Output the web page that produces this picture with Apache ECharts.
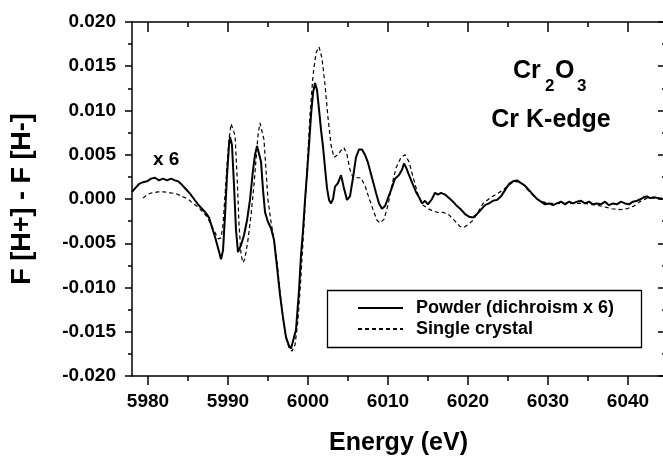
<!DOCTYPE html>
<html>
<head>
<meta charset="utf-8">
<script src="https://cdn.jsdelivr.net/npm/echarts@6/dist/echarts.min.js"></script>
<style>
html,body{margin:0;padding:0;background:#fff;}
#chart{width:663px;height:459px;}
</style>
</head>
<body>
<div id="chart"></div>
<script>
// ---- data ----
const energyMin = 5978.0;
const energyMax = 6044.63;
const energyMajorTicks = [5980, 5990, 6000, 6010, 6020, 6030, 6040];
const energyMinorTicks = [5985, 5995, 6005, 6015, 6025, 6035];
const signalTicks = [-0.020, -0.015, -0.010, -0.005, 0.000, 0.005, 0.010, 0.015, 0.020];

const powderEnergy = [
5978.0,5978.38,5978.88,5979.38,5979.88,5980.38,5980.88,5981.38,5981.88,5982.38,5982.88,5983.38,5983.75,5984.25,5984.75,5985.25,5985.75,5986.25,5986.75,5987.25,5987.63,
5988.0,5988.38,5988.75,5989.13,5989.38,5989.63,5989.88,5990.13,5990.25,5990.5,5990.75,5991.0,5991.25,5991.63,5992.0,5992.38,5992.75,5993.13,5993.38,5993.63,5993.88,
5994.13,5994.38,5994.63,5995.0,5995.38,5995.75,5996.13,5996.5,5996.88,5997.25,5997.63,5997.88,5998.13,5998.5,5998.88,5999.13,5999.38,5999.63,5999.88,6000.13,6000.38,
6000.63,6000.88,6001.13,6001.38,6001.63,6001.88,6002.13,6002.38,6002.63,6002.88,6003.13,6003.38,6003.75,6004.13,6004.5,6004.88,6005.25,6005.63,6006.0,6006.38,6006.75,
6007.13,6007.5,6008.0,6008.5,6008.88,6009.25,6009.63,6010.0,6010.38,6010.88,6011.38,6011.75,6012.0,6012.25,6012.63,6013.13,6013.5,6013.88,6014.25,6014.63,6015.0,
6015.5,6015.88,6016.25,6016.63,6017.13,6017.63,6018.13,6018.63,6019.13,6019.63,6020.13,6020.63,6021.13,6021.63,6022.13,6022.63,6023.13,6023.63,6024.13,6024.63,
6025.13,6025.63,6026.13,6026.63,6027.13,6027.63,6028.13,6028.63,6029.13,6029.63,6030.13,6030.63,6031.13,6031.63,6032.13,6032.63,6033.13,6033.63,6034.13,6034.63,
6035.13,6035.63,6036.13,6036.63,6037.13,6037.63,6038.13,6038.63,6039.13,6039.63,6040.13,6040.63,6041.13,6041.63,6042.0,6042.38,6042.75,6043.25,6043.75,6044.25,6044.63
];
const powderSignal = [
0.0008,0.0012,0.0017,0.0019,0.0020,0.0023,0.0024,0.0021,0.0023,0.0021,0.0023,0.0021,0.0020,0.0016,0.0011,0.0006,0.0000,-0.0006,-0.0011,-0.0016,-0.0021,
-0.0032,-0.0043,-0.0055,-0.0068,-0.0058,-0.0018,0.0027,0.0061,0.0070,0.0061,0.0016,-0.0035,-0.0060,-0.0052,-0.0041,-0.0024,-0.0001,0.0033,0.0050,0.0060,0.0058,
0.0042,0.0010,-0.0015,-0.0026,-0.0033,-0.0046,-0.0077,-0.0108,-0.0134,-0.0156,-0.0166,-0.0169,-0.0167,-0.0148,-0.0103,-0.0063,-0.0035,-0.0001,0.0029,0.0061,0.0095,
0.0120,0.0131,0.0123,0.0101,0.0078,0.0059,0.0035,0.0012,-0.0001,-0.0005,0.0000,0.0014,0.0018,0.0027,0.0012,-0.0001,0.0003,0.0024,0.0047,0.0056,0.0056,
0.0050,0.0041,0.0024,0.0007,-0.0005,-0.0011,-0.0008,0.0001,0.0010,0.0023,0.0027,0.0033,0.0040,0.0036,0.0027,0.0016,0.0008,0.0002,-0.0005,-0.0002,-0.0006,
0.0000,0.0007,0.0005,0.0007,0.0005,0.0001,-0.0003,-0.0008,-0.0012,-0.0017,-0.0020,-0.0021,-0.0017,-0.0012,-0.0007,-0.0005,-0.0002,-0.0001,0.0003,0.0010,
0.0017,0.0020,0.0021,0.0018,0.0015,0.0010,0.0005,0.0000,-0.0003,-0.0006,-0.0005,-0.0007,-0.0005,-0.0003,-0.0006,-0.0003,-0.0005,-0.0003,-0.0002,-0.0005,
-0.0003,-0.0006,-0.0005,-0.0006,-0.0003,-0.0007,-0.0005,-0.0006,-0.0003,-0.0005,-0.0006,-0.0003,-0.0002,0.0000,0.0002,0.0003,0.0001,0.0002,0.0001,0.0000,0.0001
];

const crystalEnergy = [
5979.38,5979.88,5980.5,5981.25,5982.0,5982.75,5983.5,5984.25,5985.0,5985.63,5986.25,5986.88,5987.38,5987.88,5988.38,5988.75,5989.13,5989.38,5989.63,5989.88,
5990.13,5990.38,5990.63,5990.88,5991.13,5991.38,5991.63,5991.88,5992.13,5992.5,5992.88,5993.25,5993.5,5993.75,5994.0,5994.25,5994.5,5994.75,5995.0,5995.38,
5995.75,5996.13,5996.5,5996.88,5997.25,5997.63,5998.0,5998.38,5998.75,5999.13,5999.5,5999.88,6000.25,6000.63,6001.0,6001.38,6001.75,6002.13,6002.5,6002.88,
6003.25,6003.75,6004.13,6004.5,6004.88,6005.25,6005.63,6006.13,6006.63,6007.13,6007.63,6008.13,6008.63,6009.0,6009.5,6010.0,6010.5,6011.0,6011.63,6012.13,
6012.63,6013.13,6013.75,6014.38,6015.25,6016.13,6016.88,6017.63,6018.38,6019.0,6019.5,6020.0,6020.63,6021.25,6021.88,6022.75,6023.63,6024.38,6025.0,6025.63,
6026.25,6026.88,6027.5,6028.25,6029.0,6030.0,6031.13,6032.75,6034.63,6036.13,6037.13,6038.0,6039.0,6039.88,6040.75,6041.5,6042.38,6043.38,6044.63
];
const crystalSignal = [
0.0001,0.0005,0.0007,0.0008,0.0008,0.0007,0.0006,0.0003,0.0000,-0.0005,-0.0009,-0.0015,-0.0020,-0.0029,-0.0038,-0.0045,-0.0044,-0.0029,0.0005,0.0038,
0.0067,0.0085,0.0087,0.0072,0.0027,-0.0029,-0.0063,-0.0072,-0.0067,-0.0046,-0.0018,0.0016,0.0044,0.0072,0.0086,0.0084,0.0067,0.0033,-0.0001,-0.0026,
-0.0046,-0.0071,-0.0105,-0.0134,-0.0157,-0.0168,-0.0172,-0.0165,-0.0137,-0.0086,-0.0029,0.0033,0.0095,0.0140,0.0165,0.0172,0.0159,0.0129,0.0092,0.0061,
0.0047,0.0050,0.0055,0.0058,0.0050,0.0033,0.0024,0.0024,0.0024,0.0015,0.0001,-0.0012,-0.0024,-0.0027,-0.0023,-0.0007,0.0016,0.0035,0.0047,0.0050,
0.0042,0.0025,0.0005,-0.0007,-0.0012,-0.0015,-0.0015,-0.0018,-0.0025,-0.0031,-0.0032,-0.0029,-0.0024,-0.0015,-0.0005,0.0001,0.0006,0.0010,0.0015,0.0019,
0.0020,0.0017,0.0010,0.0003,-0.0002,-0.0005,-0.0005,-0.0005,-0.0005,-0.0007,-0.0009,-0.0011,-0.0012,-0.0011,-0.0008,-0.0003,0.0001,0.0001,0.0001
];

const seriesNames = ['Powder (dichroism x 6)', 'Single crystal'];

// ---- chart ----
const FONT = "'Liberation Sans', Arial, Helvetica, sans-serif";
const zip = (xs, ys) => xs.map((x, i) => [x, ys[i]]);
const axisLineStyle = { color: '#000', width: 1.5 };

const chart = echarts.init(document.getElementById('chart'), null, { renderer: 'canvas' });

const option = {
  animation: false,
  backgroundColor: '#fff',
  grid: { left: 132, right: -2, top: 22, bottom: 83, containLabel: false, outerBoundsMode: 'none' },
  xAxis: [
    {
      type: 'value', position: 'bottom', min: energyMin, max: energyMax,
      axisLine: { show: true, onZero: false, lineStyle: axisLineStyle },
      axisTick: { show: true, customValues: energyMajorTicks, length: 9, lineStyle: axisLineStyle },
      axisLabel: { show: true, customValues: energyMajorTicks, margin: 16, color: '#000',
        fontSize: 19, fontWeight: 'bold', fontFamily: FONT, formatter: v => String(Math.round(v)) },
      splitLine: { show: false },
      name: 'Energy (eV)', nameLocation: 'middle', nameGap: 55,
      nameTextStyle: { color: '#000', fontSize: 25, fontWeight: 'bold', fontFamily: FONT }
    },
    {
      type: 'value', position: 'bottom', min: energyMin, max: energyMax,
      axisLine: { show: false, onZero: false },
      axisTick: { show: true, customValues: energyMinorTicks, length: 5, lineStyle: axisLineStyle },
      axisLabel: { show: false }, splitLine: { show: false }
    },
    {
      type: 'value', position: 'top', min: energyMin, max: energyMax,
      axisLine: { show: true, onZero: false, lineStyle: axisLineStyle },
      axisTick: { show: true, inside: true, customValues: energyMajorTicks, length: 10, lineStyle: axisLineStyle },
      axisLabel: { show: false }, splitLine: { show: false }
    },
    {
      type: 'value', position: 'top', min: energyMin, max: energyMax,
      axisLine: { show: false, onZero: false },
      axisTick: { show: true, inside: true, customValues: energyMinorTicks, length: 5, lineStyle: axisLineStyle },
      axisLabel: { show: false }, splitLine: { show: false }
    }
  ],
  yAxis: [
    {
      type: 'value', position: 'left', min: signalTicks[0], max: signalTicks[signalTicks.length - 1], interval: 0.005,
      axisLine: { show: true, onZero: false, lineStyle: axisLineStyle },
      axisTick: { show: true, length: 7, lineStyle: axisLineStyle },
      minorTick: { show: true, splitNumber: 2, length: 4, lineStyle: { color: '#000', width: 1.5 } },
      axisLabel: { margin: 16, color: '#000', fontSize: 19, fontWeight: 'bold', fontFamily: FONT,
        formatter: v => (Math.abs(v) < 1e-9 ? 0 : v).toFixed(3) },
      splitLine: { show: false }, minorSplitLine: { show: false },
      name: 'F [H+] - F [H-]', nameLocation: 'middle', nameGap: 96,
      nameTextStyle: { color: '#000', fontSize: 27, fontWeight: 'bold', fontFamily: FONT }
    },
    {
      type: 'value', position: 'right', min: signalTicks[0], max: signalTicks[signalTicks.length - 1], interval: 0.005,
      axisLine: { show: true, onZero: false, lineStyle: axisLineStyle },
      axisTick: { show: true, inside: true, length: 7, lineStyle: axisLineStyle },
      minorTick: { show: true, splitNumber: 2, length: 3, lineStyle: { color: '#000', width: 1.5 } },
      axisLabel: { show: false },
      splitLine: { show: false }, minorSplitLine: { show: false }
    }
  ],
  legend: {
    data: seriesNames,
    orient: 'vertical',
    left: 357, top: 299,
    padding: 0,
    itemWidth: 45, itemHeight: 12, itemGap: 3,
    itemStyle: { opacity: 0, color: 'rgba(0,0,0,0)', borderWidth: 0 },
    textStyle: { color: '#000', fontSize: 18, fontWeight: 'bold', fontFamily: FONT, padding: [0, 0, 0, 8] },
    selectedMode: false
  },
  graphic: [
    { type: 'rect', shape: { x: 327.5, y: 290.5, width: 314, height: 57 },
      style: { fill: 'rgba(0,0,0,0)', stroke: '#000', lineWidth: 1.3 }, z: 0 },
    { type: 'text', x: 153, y: 160, style: { text: 'x 6', fill: '#000', font: 'bold 19px ' + FONT, textAlign: 'left', textVerticalAlign: 'middle' } },
    { type: 'text', x: 513, y: 71, style: { text: 'Cr', fill: '#000', font: 'bold 25px ' + FONT, textAlign: 'left', textVerticalAlign: 'middle' } },
    { type: 'text', x: 545, y: 86, style: { text: '2', fill: '#000', font: 'bold 17px ' + FONT, textAlign: 'left', textVerticalAlign: 'middle' } },
    { type: 'text', x: 555, y: 71, style: { text: 'O', fill: '#000', font: 'bold 25px ' + FONT, textAlign: 'left', textVerticalAlign: 'middle' } },
    { type: 'text', x: 577, y: 86, style: { text: '3', fill: '#000', font: 'bold 17px ' + FONT, textAlign: 'left', textVerticalAlign: 'middle' } },
    { type: 'text', x: 551, y: 120, style: { text: 'Cr K-edge', fill: '#000', font: 'bold 25px ' + FONT, textAlign: 'center', textVerticalAlign: 'middle' } }
  ],
  series: [
    {
      name: seriesNames[0], type: 'line', xAxisIndex: 0, yAxisIndex: 0,
      data: zip(powderEnergy, powderSignal),
      symbol: 'none', showSymbol: false, smooth: false, z: 3,
      lineStyle: { color: '#000', width: 2 }, itemStyle: { color: '#000' }
    },
    {
      name: seriesNames[1], type: 'line', xAxisIndex: 0, yAxisIndex: 0,
      data: zip(crystalEnergy, crystalSignal),
      symbol: 'none', showSymbol: false, smooth: false, z: 2,
      lineStyle: { color: '#000', width: 1.2, type: [4, 3] }, itemStyle: { color: '#000' }
    }
  ]
};
chart.setOption(option);
</script>
</body>
</html>
